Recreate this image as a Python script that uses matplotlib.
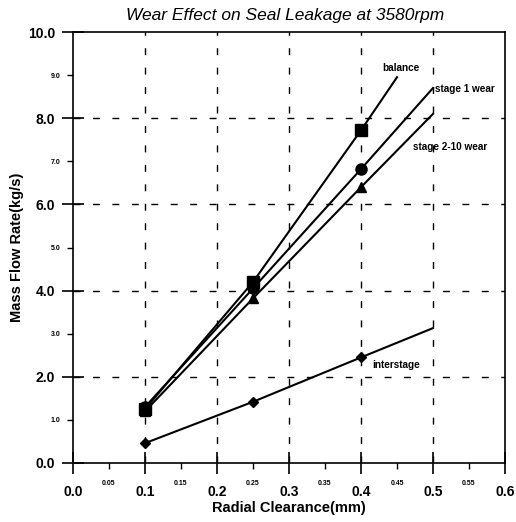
import matplotlib
matplotlib.use("Agg")
import matplotlib.pyplot as plt
from matplotlib.ticker import FixedLocator, FixedFormatter

plt.rcParams['font.family'] = ['Liberation Sans', 'DejaVu Sans']

# data points (clearance mm, mass flow kg/s)
x_pts = [0.1, 0.25, 0.4]
balance = [1.25, 4.2, 7.72]
stage1 = [1.3, 4.05, 6.82]
stage2_10 = [1.2, 3.82, 6.4]
interstage = [0.46, 1.42, 2.45]
# end points of the extended lines
balance_end = (0.45, 8.95)
stage1_end = (0.5, 8.7)
stage2_10_end = (0.5, 8.1)
interstage_end = (0.5, 3.13)

series = [
    ("balance", balance, balance_end, 's', 8, (0.455, 9.17), 'center'),
    ("stage 1 wear", stage1, stage1_end, 'o', 8, (0.503, 8.68), 'left'),
    ("stage 2-10 wear", stage2_10, stage2_10_end, '^', 7, (0.472, 7.33), 'left'),
    ("interstage", interstage, interstage_end, 'D', 5, (0.415, 2.27), 'left'),
]

major_x = [0.0, 0.1, 0.2, 0.3, 0.4, 0.5, 0.6]
minor_x = [0.05, 0.15, 0.25, 0.35, 0.45, 0.55]
major_y = [0.0, 2.0, 4.0, 6.0, 8.0, 10.0]
minor_y = [1.0, 3.0, 5.0, 7.0, 9.0]

fig = plt.figure(figsize=(5.16, 5.22), dpi=100)
ax = fig.add_axes([73/516, 59/522, 432/516, 431/522])

for name, ys, end, mk, ms, lab, ha in series:
    xs = x_pts + [end[0]]
    yy = ys + [end[1]]
    ax.plot(xs, yy, color='black', lw=1.5, marker=mk, ms=ms,
            markevery=list(range(len(x_pts))), mfc='black', mec='black', zorder=3)
    ax.text(lab[0], lab[1], name, fontsize=7.2, fontweight='bold', ha=ha, va='center')

ax.set_xlim(0, 0.6)
ax.set_ylim(0, 10)

ax.xaxis.set_major_locator(FixedLocator(major_x))
ax.xaxis.set_major_formatter(FixedFormatter([f"{v:.1f}" for v in major_x]))
ax.xaxis.set_minor_locator(FixedLocator(minor_x))
ax.xaxis.set_minor_formatter(FixedFormatter([f"{v:.2f}" for v in minor_x]))
ax.yaxis.set_major_locator(FixedLocator(major_y))
ax.yaxis.set_major_formatter(FixedFormatter([f"{v:.1f}" for v in major_y]))
ax.yaxis.set_minor_locator(FixedLocator(minor_y))
ax.yaxis.set_minor_formatter(FixedFormatter([f"{v:.1f}" for v in minor_y]))

ax.tick_params(axis='both', which='major', direction='inout', length=16, width=1.2,
               labelsize=10, color='black')
ax.tick_params(axis='x', which='major', pad=8)
ax.tick_params(axis='y', which='major', pad=5)
ax.tick_params(axis='x', which='minor', direction='out', length=4, width=1,
               labelsize=5, pad=8)
ax.tick_params(axis='y', which='minor', direction='out', length=4, width=1,
               labelsize=5, pad=5)
for lbl in ax.get_xticklabels() + ax.get_yticklabels():
    lbl.set_fontweight('bold')
for lbl in ax.get_xminorticklabels() + ax.get_yminorticklabels():
    lbl.set_fontweight('bold')

for v in major_x[1:-1]:
    ax.axvline(v, color='black', lw=1.0, ls=(0, (5, 9)), zorder=1)
for v in major_y[1:-1]:
    ax.axhline(v, color='black', lw=1.0, ls=(0, (5, 9)), zorder=1)

for s in ax.spines.values():
    s.set_linewidth(1.2)

ax.set_xlabel("Radial Clearance(mm)", fontsize=10.5, fontweight='bold', labelpad=1)
ax.set_ylabel("Mass Flow Rate(kg/s)", fontsize=10.5, fontweight='bold', labelpad=3)
fig.text(0.552, 0.971, "Wear Effect on Seal Leakage at 3580rpm", fontsize=12.5,
         style='italic', ha='center', va='center')

fig.savefig("out.png", dpi=100)
